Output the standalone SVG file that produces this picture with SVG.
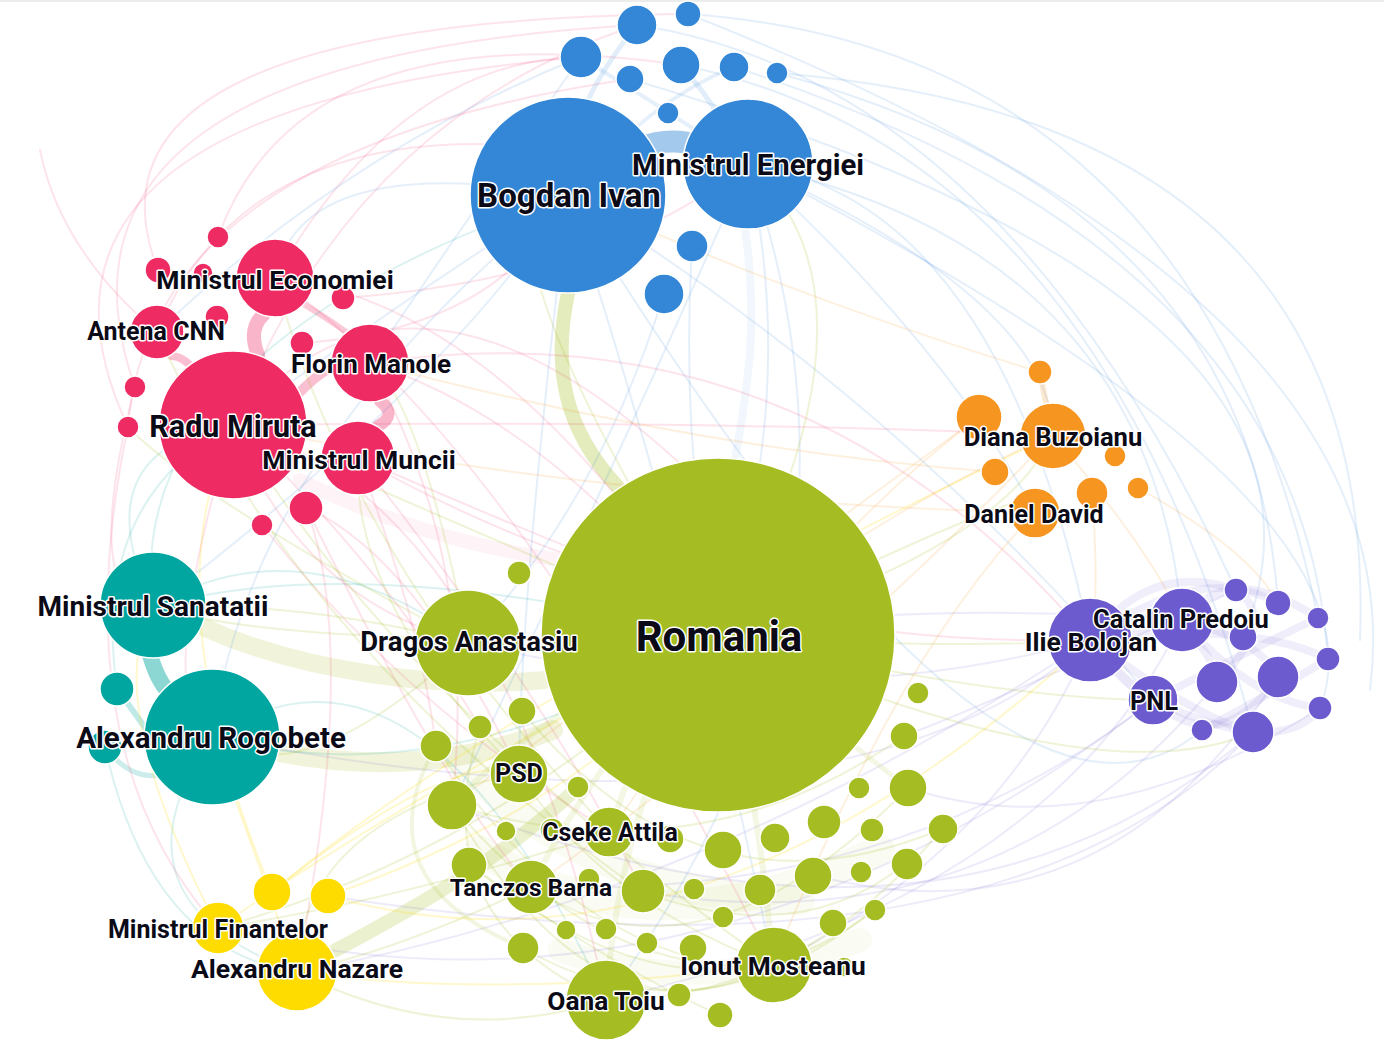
<svg xmlns="http://www.w3.org/2000/svg" width="1384" height="1057" viewBox="0 0 1384 1057">
<defs>
<style>
.bg{fill:#fff}
#edges path{fill:none;stroke-linecap:round}
.eb{stroke:#3487d6;stroke-opacity:.13;stroke-width:2}
.er{stroke:#ee2c63;stroke-opacity:.13;stroke-width:2}
.eg{stroke:#a5bd22;stroke-opacity:.18;stroke-width:2}
.et{stroke:#00a69f;stroke-opacity:.14;stroke-width:2}
.eo{stroke:#f6951f;stroke-opacity:.14;stroke-width:2}
.ep{stroke:#6c5bcf;stroke-opacity:.12;stroke-width:2}
.ey{stroke:#fedc00;stroke-opacity:.2;stroke-width:2}
.node circle{stroke:#fff;stroke-width:1.5}
.blue circle{fill:#3487d6}
.red circle{fill:#ee2c63}
.teal circle{fill:#00a69f}
.orange circle{fill:#f6951f}
.purple circle{fill:#6c5bcf}
.green circle{fill:#a5bd22}
.yellow circle{fill:#fedc00}
.node text{font-family:Roboto,"Liberation Sans",sans-serif;font-weight:700;fill:#0b0b18;stroke:#fff;stroke-width:3;stroke-linejoin:round;paint-order:stroke;text-anchor:middle}
</style>
</defs>
<rect class="bg" x="0" y="0" width="1384" height="1057"/>
<rect x="0" y="0" width="1384" height="2" fill="#ececec"/>
<g id="edges">
<!-- thick bands -->
<path class="eg" d="M568 293 C552 370 565 430 618 487" style="stroke-width:14;stroke-opacity:.3"/>
<path class="eb" d="M745 229 C760 330 745 400 735 460" style="stroke-width:8;stroke-opacity:.07"/>
<path class="eb" d="M640 148 Q670 136 700 146" style="stroke-width:22;stroke-opacity:.45"/>
<path class="eg" d="M205 628 C300 670 430 690 545 680" style="stroke-width:18;stroke-opacity:.16"/>
<path class="eg" d="M279 752 C380 772 470 762 553 730" style="stroke-width:20;stroke-opacity:.16"/>
<path class="eg" d="M336 950 C420 905 500 860 575 790" style="stroke-width:14;stroke-opacity:.22"/>
<path class="er" d="M258 355 C250 335 255 322 264 314" style="stroke-width:14;stroke-opacity:.35"/>
<path class="er" d="M300 392 Q320 372 334 366" style="stroke-width:10;stroke-opacity:.3"/>
<path class="er" d="M380 401 Q398 415 378 426" style="stroke-width:12;stroke-opacity:.35"/>
<path class="er" d="M190 365 Q180 356 172 356" style="stroke-width:8;stroke-opacity:.3"/>
<path class="er" d="M300 302 Q330 320 346 332" style="stroke-width:6;stroke-opacity:.25"/>
<path class="et" d="M150 655 Q160 690 180 702" style="stroke-width:16;stroke-opacity:.45"/>
<path class="et" d="M117 689 Q140 720 150 735" style="stroke-width:6;stroke-opacity:.25"/>
<path class="et" d="M105 747 Q130 780 160 775" style="stroke-width:5;stroke-opacity:.2"/>
<path class="eg" d="M460 760 Q600 900 800 900" style="stroke-width:30;stroke-opacity:.06"/>
<path class="eg" d="M480 850 Q650 960 880 850" style="stroke-width:30;stroke-opacity:.06"/>
<path class="eg" d="M560 950 Q700 1000 860 940" style="stroke-width:24;stroke-opacity:.06"/>
<path class="er" d="M300 480 Q420 540 560 560" style="stroke-width:14;stroke-opacity:.05"/>
<!-- red -->
<path class="er" d="M128 427 Q-20 110 581 57"/>
<path class="er" d="M135 387 Q20 60 637 25"/>
<path class="er" d="M158 270 Q60 20 688 14"/>
<path class="er" d="M218 237 Q300 10 681 65"/>
<path class="er" d="M157 332 Q250 110 568 150"/>
<path class="er" d="M128 427 Q150 150 630 79"/>
<path class="er" d="M233 425 Q350 120 637 25"/>
<path class="er" d="M275 278 Q400 60 581 57"/>
<path class="er" d="M233 425 Q420 200 718 500"/>
<path class="er" d="M370 363 Q550 420 718 635"/>
<path class="er" d="M358 458 Q500 520 600 560"/>
<path class="er" d="M275 278 Q500 300 718 635"/>
<path class="er" d="M233 425 Q300 600 468 643"/>
<path class="er" d="M306 507 Q420 560 519 773"/>
<path class="er" d="M233 425 Q150 700 212 737"/>
<path class="er" d="M128 427 Q60 750 218 928"/>
<path class="er" d="M135 387 Q80 600 153 607"/>
<path class="er" d="M343 298 Q600 280 748 164"/>
<path class="er" d="M302 343 Q500 330 568 195"/>
<path class="er" d="M233 425 Q700 420 1053 435"/>
<path class="er" d="M370 363 Q800 300 1090 640"/>
<path class="er" d="M358 458 Q700 650 1090 640"/>
<path class="er" d="M262 525 Q400 700 610 832"/>
<path class="er" d="M306 507 Q450 800 531 887"/>
<path class="er" d="M358 458 Q550 700 643 892"/>
<path class="er" d="M233 425 Q500 500 606 1000"/>
<path class="er" d="M275 278 Q520 450 773 965"/>
<path class="er" d="M370 363 Q480 560 452 805"/>
<path class="er" d="M358 458 Q420 620 436 746"/>
<path class="er" d="M233 425 Q380 560 480 727"/>
<path class="er" d="M306 507 Q360 650 297 972"/>
<path class="er" d="M157 332 Q60 250 40 150"/>
<!-- blue -->
<path class="eb" d="M748 164 Q1000 200 1090 640"/>
<path class="eb" d="M748 164 Q1150 250 1182 620"/>
<path class="eb" d="M777 73 Q1250 200 1278 603"/>
<path class="eb" d="M734 67 Q1300 250 1328 659"/>
<path class="eb" d="M688 14 Q1200 50 1318 618"/>
<path class="eb" d="M681 65 Q1100 150 1253 732"/>
<path class="eb" d="M748 164 Q1050 300 1053 435"/>
<path class="eb" d="M748 164 Q950 350 1035 513"/>
<path class="eb" d="M568 195 Q900 400 1153 700"/>
<path class="eb" d="M637 25 Q1000 80 1236 590"/>
<path class="eb" d="M568 195 Q400 300 233 425"/>
<path class="eb" d="M568 195 Q300 150 275 278"/>
<path class="eb" d="M581 57 Q350 150 157 332"/>
<path class="eb" d="M748 164 Q800 400 718 635"/>
<path class="eb" d="M692 246 Q680 450 718 635"/>
<path class="eb" d="M664 294 Q600 500 468 643"/>
<path class="eb" d="M568 195 Q700 600 773 965"/>
<path class="eb" d="M748 164 Q900 600 606 1000"/>
<path class="eb" d="M568 195 Q250 450 212 737"/>
<path class="eb" d="M748 164 Q1400 500 1320 708"/>
<path class="eb" d="M630 79 Q1380 300 1243 637"/>
<path class="eb" d="M568 195 Q1000 900 1202 730"/>
<path class="eb" d="M688 14 Q1420 300 1370 690"/>
<path class="eb" d="M777 73 Q1380 120 1360 640"/>
<path class="eb" d="M568 195 Q450 380 153 607"/>
<path class="eb" d="M581 57 Q480 200 370 363"/>
<path class="eb" d="M568 195 Q520 600 519 773"/>
<path class="eb" d="M748 164 Q600 500 452 805"/>
<path class="eb" d="M637 25 Q560 120 568 195" style="stroke-width:5;stroke-opacity:.15"/>
<path class="eb" d="M681 65 Q720 110 748 164" style="stroke-width:5;stroke-opacity:.15"/>
<path class="eb" d="M580 57 Q650 100 748 164" style="stroke-width:4;stroke-opacity:.12"/>
<path class="eb" d="M734 67 Q650 100 568 195" style="stroke-width:4;stroke-opacity:.12"/>
<!-- orange -->
<path class="eo" d="M1053 435 Q900 500 718 635"/>
<path class="eo" d="M979 417 Q800 550 610 832"/>
<path class="eo" d="M1035 513 Q900 650 773 965"/>
<path class="eo" d="M1053 435 Q1150 550 1182 620"/>
<path class="eo" d="M1040 372 Q800 300 568 195"/>
<path class="eo" d="M995 472 Q700 450 370 363"/>
<path class="eo" d="M1092 493 Q1100 600 1090 640"/>
<path class="eo" d="M1138 488 Q1250 550 1278 603"/>
<path class="eo" d="M1035 513 Q600 500 233 425"/>
<path class="eo" d="M1040 372 Q1045 400 1053 435" style="stroke-width:6;stroke-opacity:.2"/>
<path class="eo" d="M979 417 Q700 620 452 805"/>
<path class="eo" d="M1053 435 Q800 700 531 887"/>
<!-- purple -->
<path class="ep" d="M1090 640 Q1000 850 773 965"/>
<path class="ep" d="M1182 620 Q1050 900 606 1000"/>
<path class="ep" d="M1153 700 Q900 900 531 887"/>
<path class="ep" d="M1217 682 Q1000 950 643 892"/>
<path class="ep" d="M1253 732 Q950 1000 452 805"/>
<path class="ep" d="M1278 677 Q1100 950 813 875"/>
<path class="ep" d="M1090 640 Q700 900 297 972"/>
<path class="ep" d="M1153 700 Q700 1050 218 928"/>
<path class="ep" d="M1090 640 Q800 720 468 643"/>
<path class="ep" d="M1182 620 Q900 600 718 635"/>
<path class="ep" d="M1320 708 Q1100 850 908 788"/>
<path class="ep" d="M1236 590 Q1000 700 904 736"/>
<path class="ep" d="M1090 640 Q850 860 212 737"/>
<path class="ep" d="M1253 732 Q1000 1000 328 896"/>
<path class="ep" d="M1090 640 Q1200 560 1278 603" style="stroke-width:8;stroke-opacity:.1"/>
<path class="ep" d="M1090 640 Q1250 620 1328 659" style="stroke-width:8;stroke-opacity:.1"/>
<path class="ep" d="M1090 640 Q1200 720 1253 732" style="stroke-width:8;stroke-opacity:.1"/>
<path class="ep" d="M1182 620 Q1250 700 1320 708" style="stroke-width:8;stroke-opacity:.1"/>
<path class="ep" d="M1153 700 Q1250 650 1318 618" style="stroke-width:8;stroke-opacity:.1"/>
<path class="ep" d="M1217 682 Q1280 620 1236 590" style="stroke-width:8;stroke-opacity:.1"/>
<path class="ep" d="M1090 640 Q1200 600 1217 682" style="stroke-width:8;stroke-opacity:.1"/>
<path class="ep" d="M1153 700 Q1220 760 1278 677" style="stroke-width:8;stroke-opacity:.1"/>
<path class="ep" d="M1182 620 Q1260 640 1278 677" style="stroke-width:8;stroke-opacity:.1"/>
<path class="ep" d="M1090 640 Q1150 560 1236 590" style="stroke-width:8;stroke-opacity:.1"/>
<path class="ep" d="M1202 730 Q1260 700 1328 659" style="stroke-width:8;stroke-opacity:.1"/>
<path class="ep" d="M1153 700 Q1280 760 1320 708" style="stroke-width:8;stroke-opacity:.1"/>
<path class="ep" d="M1182 620 Q1230 560 1318 618" style="stroke-width:8;stroke-opacity:.1"/>
<path class="ep" d="M1090 640 Q1130 690 1153 700" style="stroke-width:10;stroke-opacity:.14"/>
<path class="ep" d="M1090 640 Q1140 610 1182 620" style="stroke-width:10;stroke-opacity:.14"/>
<!-- teal -->
<path class="et" d="M153 607 Q350 550 718 635"/>
<path class="et" d="M212 737 Q450 800 718 635"/>
<path class="et" d="M153 607 Q80 450 233 425"/>
<path class="et" d="M212 737 Q100 900 297 972"/>
<path class="et" d="M117 689 Q90 500 233 425"/>
<path class="et" d="M105 747 Q150 950 297 972"/>
<path class="et" d="M153 607 Q300 520 468 643"/>
<path class="et" d="M153 607 Q120 350 568 195"/>
<path class="et" d="M212 737 Q420 600 606 1000"/>
<!-- yellow -->
<path class="ey" d="M297 972 Q500 1000 773 965"/>
<path class="ey" d="M218 928 Q400 800 718 635"/>
<path class="ey" d="M272 892 Q450 750 519 773"/>
<path class="ey" d="M328 896 Q600 800 718 635"/>
<path class="ey" d="M297 972 Q200 700 212 737"/>
<path class="ey" d="M272 892 Q150 600 233 425"/>
<path class="ey" d="M328 896 Q700 1000 1090 640"/>
<path class="ey" d="M218 928 Q100 700 153 607"/>
<path class="ey" d="M272 892 Q500 700 1053 435"/>
<!-- green -->
<path class="eg" d="M718 635 Q400 500 233 425"/>
<path class="eg" d="M718 635 Q450 200 568 195"/>
<path class="eg" d="M718 635 Q500 850 218 928"/>
<path class="eg" d="M718 635 Q1000 550 1053 435"/>
<path class="eg" d="M718 635 Q950 650 1090 640"/>
<path class="eg" d="M718 635 Q1000 700 1153 700"/>
<path class="eg" d="M468 643 Q300 600 153 607"/>
<path class="eg" d="M468 643 Q300 800 212 737"/>
<path class="eg" d="M519 773 Q300 820 297 972"/>
<path class="eg" d="M610 832 Q400 900 218 928"/>
<path class="eg" d="M531 887 Q400 950 297 972"/>
<path class="eg" d="M606 1000 Q450 1050 297 972"/>
<path class="eg" d="M773 965 Q600 1060 452 805"/>
<path class="eg" d="M718 635 Q300 650 153 607"/>
<path class="eg" d="M519 773 Q600 900 773 965"/>
<path class="eg" d="M452 805 Q600 980 773 965"/>
<path class="eg" d="M436 746 Q600 1000 843 967"/>
<path class="eg" d="M531 887 Q700 1000 908 788"/>
<path class="eg" d="M606 1000 Q800 1000 942 829"/>
<path class="eg" d="M643 892 Q800 950 906 863"/>
<path class="eg" d="M469 864 Q700 1050 875 909"/>
<path class="eg" d="M718 635 Q1100 800 1253 732"/>
<path class="eg" d="M718 635 Q1100 450 1035 513"/>
<path class="eg" d="M452 805 Q550 700 718 635" style="stroke-width:6;stroke-opacity:.12"/>
<path class="eg" d="M610 832 Q650 700 718 635" style="stroke-width:6;stroke-opacity:.12"/>
<path class="eg" d="M531 887 Q600 750 718 635" style="stroke-width:6;stroke-opacity:.12"/>
<path class="eg" d="M773 965 Q760 800 718 635" style="stroke-width:6;stroke-opacity:.12"/>
<path class="eg" d="M606 1000 Q620 800 718 635" style="stroke-width:6;stroke-opacity:.12"/>
<path class="eg" d="M908 788 Q820 720 718 635" style="stroke-width:5;stroke-opacity:.12"/>
<path class="eg" d="M436 746 Q360 880 523 948" style="stroke-width:4;stroke-opacity:.14"/>
<path class="eg" d="M480 727 Q420 920 606 1000"/>
<path class="eg" d="M522 711 Q700 930 942 829"/>
<path class="eg" d="M469 864 Q600 960 719 1015"/>
<path class="eg" d="M452 805 Q700 880 904 736"/>
<path class="eg" d="M523 948 Q700 1050 875 909"/>
<path class="eg" d="M468 643 Q200 500 128 427"/>
<path class="eg" d="M718 635 Q900 300 748 164"/>
<path class="eg" d="M468 643 Q420 400 370 363"/>
<path class="eg" d="M519 773 Q350 600 358 458"/>
<path class="eg" d="M610 832 Q350 560 275 278"/>
<path class="eg" d="M773 965 Q400 700 233 425"/>
<path class="eg" d="M643 892 Q300 650 157 332"/>
</g>
<g id="nodes">
<!-- blue small -->
<g id="n-b1" class="node blue"><circle cx="637" cy="25" r="20"/></g>
<g id="n-b2" class="node blue"><circle cx="688" cy="14" r="13"/></g>
<g id="n-b3" class="node blue"><circle cx="581" cy="57" r="21"/></g>
<g id="n-b4" class="node blue"><circle cx="681" cy="65" r="19"/></g>
<g id="n-b5" class="node blue"><circle cx="630" cy="79" r="14"/></g>
<g id="n-b6" class="node blue"><circle cx="734" cy="67" r="15"/></g>
<g id="n-b7" class="node blue"><circle cx="777" cy="73" r="11"/></g>
<g id="n-b8" class="node blue"><circle cx="668" cy="113" r="11"/></g>
<g id="n-b9" class="node blue"><circle cx="692" cy="246" r="16"/></g>
<g id="n-b10" class="node blue"><circle cx="664" cy="294" r="20"/></g>
<!-- red small -->
<g id="n-r1" class="node red"><circle cx="218" cy="237" r="11"/></g>
<g id="n-r2" class="node red"><circle cx="158" cy="270" r="13"/></g>
<g id="n-r3" class="node red"><circle cx="203" cy="273" r="10"/></g>
<g id="n-r4" class="node red"><circle cx="343" cy="298" r="12"/></g>
<g id="n-r5" class="node red"><circle cx="217" cy="317" r="12"/></g>
<g id="n-r6" class="node red"><circle cx="302" cy="343" r="12"/></g>
<g id="n-r7" class="node red"><circle cx="135" cy="387" r="11"/></g>
<g id="n-r8" class="node red"><circle cx="128" cy="427" r="11"/></g>
<g id="n-r9" class="node red"><circle cx="306" cy="508" r="17"/></g>
<g id="n-r10" class="node red"><circle cx="262" cy="525" r="11"/></g>
<!-- orange small -->
<g id="n-o1" class="node orange"><circle cx="1040" cy="372" r="12"/></g>
<g id="n-o2" class="node orange"><circle cx="979" cy="417" r="23"/></g>
<g id="n-o3" class="node orange"><circle cx="995" cy="472" r="14"/></g>
<g id="n-o4" class="node orange"><circle cx="1115" cy="456" r="11"/></g>
<g id="n-o5" class="node orange"><circle cx="1092" cy="493" r="16"/></g>
<g id="n-o6" class="node orange"><circle cx="1138" cy="488" r="11"/></g>
<!-- purple small -->
<g id="n-p1" class="node purple"><circle cx="1236" cy="590" r="12"/></g>
<g id="n-p2" class="node purple"><circle cx="1278" cy="603" r="13"/></g>
<g id="n-p3" class="node purple"><circle cx="1318" cy="618" r="11"/></g>
<g id="n-p4" class="node purple"><circle cx="1243" cy="637" r="14"/></g>
<g id="n-p5" class="node purple"><circle cx="1328" cy="659" r="12"/></g>
<g id="n-p6" class="node purple"><circle cx="1217" cy="682" r="21"/></g>
<g id="n-p7" class="node purple"><circle cx="1278" cy="677" r="21"/></g>
<g id="n-p8" class="node purple"><circle cx="1320" cy="708" r="12"/></g>
<g id="n-p9" class="node purple"><circle cx="1202" cy="730" r="11"/></g>
<g id="n-p10" class="node purple"><circle cx="1253" cy="732" r="21"/></g>
<!-- teal small -->
<g id="n-t1" class="node teal"><circle cx="117" cy="689" r="17"/></g>
<g id="n-t2" class="node teal"><circle cx="105" cy="747" r="17"/></g>
<!-- yellow small -->
<g id="n-y1" class="node yellow"><circle cx="272" cy="892" r="19"/></g>
<g id="n-y2" class="node yellow"><circle cx="328" cy="896" r="18"/></g>
<!-- green small -->
<g id="n-g1" class="node green"><circle cx="519" cy="573" r="12"/></g>
<g id="n-g2" class="node green"><circle cx="522" cy="711" r="14"/></g>
<g id="n-g3" class="node green"><circle cx="480" cy="727" r="12"/></g>
<g id="n-g4" class="node green"><circle cx="436" cy="746" r="16"/></g>
<g id="n-g5" class="node green"><circle cx="578" cy="787" r="11"/></g>
<g id="n-g6" class="node green"><circle cx="452" cy="805" r="25"/></g>
<g id="n-g7" class="node green"><circle cx="506" cy="831" r="10"/></g>
<g id="n-g8" class="node green"><circle cx="552" cy="830" r="12"/></g>
<g id="n-g9" class="node green"><circle cx="670" cy="839" r="14"/></g>
<g id="n-g10" class="node green"><circle cx="723" cy="850" r="19"/></g>
<g id="n-g11" class="node green"><circle cx="775" cy="838" r="15"/></g>
<g id="n-g12" class="node green"><circle cx="824" cy="822" r="17"/></g>
<g id="n-g13" class="node green"><circle cx="872" cy="830" r="12"/></g>
<g id="n-g14" class="node green"><circle cx="859" cy="788" r="11"/></g>
<g id="n-g15" class="node green"><circle cx="908" cy="788" r="19"/></g>
<g id="n-g16" class="node green"><circle cx="904" cy="736" r="14"/></g>
<g id="n-g17" class="node green"><circle cx="918" cy="693" r="11"/></g>
<g id="n-g18" class="node green"><circle cx="943" cy="829" r="15"/></g>
<g id="n-g19" class="node green"><circle cx="907" cy="864" r="16"/></g>
<g id="n-g20" class="node green"><circle cx="861" cy="872" r="11"/></g>
<g id="n-g21" class="node green"><circle cx="813" cy="876" r="19"/></g>
<g id="n-g22" class="node green"><circle cx="760" cy="890" r="16"/></g>
<g id="n-g23" class="node green"><circle cx="694" cy="889" r="11"/></g>
<g id="n-g24" class="node green"><circle cx="643" cy="891" r="22"/></g>
<g id="n-g25" class="node green"><circle cx="589" cy="879" r="11"/></g>
<g id="n-g26" class="node green"><circle cx="469" cy="865" r="18"/></g>
<g id="n-g27" class="node green"><circle cx="723" cy="917" r="11"/></g>
<g id="n-g28" class="node green"><circle cx="875" cy="910" r="11"/></g>
<g id="n-g29" class="node green"><circle cx="833" cy="923" r="14"/></g>
<g id="n-g30" class="node green"><circle cx="606" cy="929" r="11"/></g>
<g id="n-g31" class="node green"><circle cx="566" cy="930" r="10"/></g>
<g id="n-g32" class="node green"><circle cx="647" cy="943" r="11"/></g>
<g id="n-g33" class="node green"><circle cx="693" cy="948" r="14"/></g>
<g id="n-g34" class="node green"><circle cx="523" cy="948" r="16"/></g>
<g id="n-g35" class="node green"><circle cx="844" cy="967" r="10"/></g>
<g id="n-g36" class="node green"><circle cx="679" cy="995" r="12"/></g>
<g id="n-g37" class="node green"><circle cx="720" cy="1015" r="13"/></g>
<!-- labeled -->
<g id="n-bogdan-ivan" class="node blue"><circle cx="568" cy="195" r="98"/><text x="569" y="207" font-size="33">Bogdan Ivan</text></g>
<g id="n-ministrul-energiei" class="node blue"><circle cx="748" cy="164" r="65"/><text x="748" y="175" font-size="29.3">Ministrul Energiei</text></g>
<g id="n-ministrul-economiei" class="node red"><circle cx="275" cy="278" r="39"/><text x="275" y="289" font-size="26.5">Ministrul Economiei</text></g>
<g id="n-antena-cnn" class="node red"><circle cx="157" cy="332" r="27"/><text x="156" y="340" font-size="25">Antena CNN</text></g>
<g id="n-florin-manole" class="node red"><circle cx="370" cy="363" r="39"/><text x="371" y="373" font-size="26">Florin Manole</text></g>
<g id="n-radu-miruta" class="node red"><circle cx="233" cy="425" r="74"/><text x="233" y="437" font-size="30.5">Radu Miruta</text></g>
<g id="n-ministrul-muncii" class="node red"><circle cx="358" cy="458" r="37"/><text x="359" y="469" font-size="26.5">Ministrul Muncii</text></g>
<g id="n-ministrul-sanatatii" class="node teal"><circle cx="153" cy="605" r="53"/><text x="153" y="616" font-size="28">Ministrul Sanatatii</text></g>
<g id="n-alexandru-rogobete" class="node teal"><circle cx="212" cy="737" r="68"/><text x="211" y="748" font-size="29.5">Alexandru Rogobete</text></g>
<g id="n-diana-buzoianu" class="node orange"><circle cx="1053" cy="436" r="33"/><text x="1053" y="446" font-size="25.6">Diana Buzoianu</text></g>
<g id="n-daniel-david" class="node orange"><circle cx="1035" cy="513" r="25"/><text x="1034" y="523" font-size="25">Daniel David</text></g>
<g id="n-ilie-bolojan" class="node purple"><circle cx="1090" cy="640" r="42"/><text x="1091" y="651" font-size="26.5">Ilie Bolojan</text></g>
<g id="n-catalin-predoiu" class="node purple"><circle cx="1182" cy="620" r="32"/><text x="1181" y="628" font-size="25.5">Catalin Predoiu</text></g>
<g id="n-pnl" class="node purple"><circle cx="1153" cy="700" r="25"/><text x="1154" y="710" font-size="25.5">PNL</text></g>
<g id="n-romania" class="node green"><circle cx="718" cy="635" r="177"/><text x="719" y="651" font-size="42">Romania</text></g>
<g id="n-dragos-anastasiu" class="node green"><circle cx="468" cy="643" r="53"/><text x="469" y="651" font-size="27.5">Dragos Anastasiu</text></g>
<g id="n-psd" class="node green"><circle cx="519" cy="774" r="29"/><text x="519" y="782" font-size="25">PSD</text></g>
<g id="n-cseke-attila" class="node green"><circle cx="609" cy="832" r="25"/><text x="610" y="841" font-size="25">Cseke Attila</text></g>
<g id="n-tanczos-barna" class="node green"><circle cx="531" cy="887" r="27"/><text x="531" y="896" font-size="24.5">Tanczos Barna</text></g>
<g id="n-ionut-mosteanu" class="node green"><circle cx="774" cy="965" r="38"/><text x="773" y="975" font-size="26.3">Ionut Mosteanu</text></g>
<g id="n-oana-toiu" class="node green"><circle cx="606" cy="1000" r="40"/><text x="606" y="1010" font-size="26.3">Oana Toiu</text></g>
<g id="n-alexandru-nazare" class="node yellow"><circle cx="297" cy="971" r="40"/><text x="297" y="978" font-size="26.5">Alexandru Nazare</text></g>
<g id="n-ministrul-finantelor" class="node yellow"><circle cx="218" cy="928" r="26"/><text x="218" y="938" font-size="25">Ministrul Finantelor</text></g>
</g>
</svg>
